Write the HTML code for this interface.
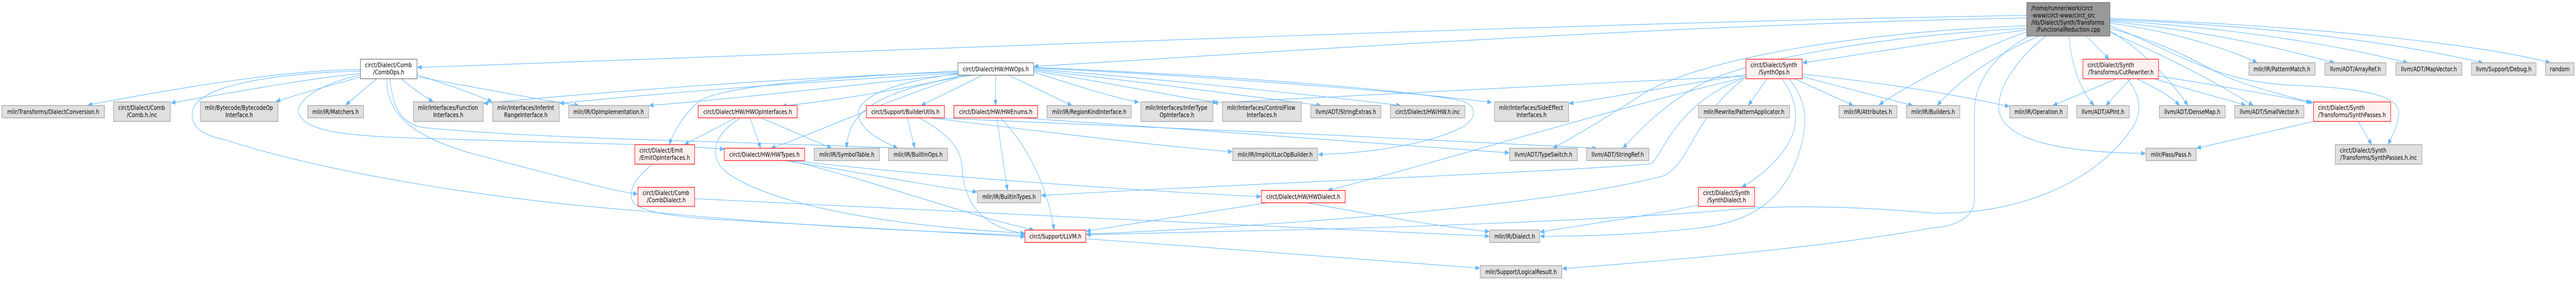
<!DOCTYPE html>
<html>
<head>
<meta charset="utf-8">
<style>
html,body{margin:0;padding:0;background:#fff;width:100vw;height:100vh;overflow:hidden;}
svg{display:block;position:absolute;left:0;top:0;width:100vw;height:100vh;}
text{font-family:"DejaVu Sans","Liberation Sans",sans-serif;font-size:12.8px;fill:#000;}
.e{fill:none;stroke:#63b8ff;stroke-width:1.1;marker-end:url(#ah);}
.g{fill:#e0e0e0;stroke:#999999;stroke-width:1.2;}
.r{fill:#fff0f0;stroke:#ff0000;stroke-width:1.2;}
.w{fill:#ffffff;stroke:#666666;stroke-width:1.2;}
.k{fill:#999999;stroke:#666666;stroke-width:1.2;}
.c{text-anchor:middle;}
</style>
</head>
<body>
<svg viewBox="0 0 6505 579" preserveAspectRatio="none" xmlns="http://www.w3.org/2000/svg" overflow="hidden">
<defs>
<marker id="ah" markerUnits="userSpaceOnUse" markerWidth="12" markerHeight="9" refX="11" refY="4.5" orient="auto">
<path d="M0,0 L11,4.5 L0,9 z" fill="#63b8ff" stroke="#63b8ff" stroke-width="0.5"/>
</marker>
</defs>

<!-- EDGES -->
<g>
<!-- CombOps -->
<path class="e" d="M910,135 C 760,136 560,155 222,204"/>
<path class="e" d="M910,143 C 800,150 600,178 432,200"/>
<path class="e" d="M910,150 C 850,162 760,182 697,197"/>
<path class="e" d="M951,153 L 873,204"/>
<path class="e" d="M1014,153 C 1035,168 1065,184 1094,198"/>
<path class="e" d="M1053,145 C 1120,162 1200,183 1243,198"/>
<path class="e" d="M1053,149 C 1200,170 1350,192 1462,205"/>
<path class="e" d="M910,146 C 820,160 740,195 755,222 C 775,252 850,262 1000,267 C 1400,278 1700,280 1829,290"/>
<path class="e" d="M977,153 C 975,230 1060,270 1200,300 C 1400,340 1550,372 1610,377"/>
<path class="e" d="M985,153 C 990,205 1010,240 1070,248 C 1400,272 1900,275 2267,288"/>
<path class="e" d="M910,138 C 700,142 500,165 486,215 C 478,250 520,264 570,272 C 800,330 1200,385 1620,410 C 2000,440 2400,452 2588,457"/>
<!-- HWOps -->
<path class="e" d="M2419,140 C 2000,150 1500,180 1221,201"/>
<path class="e" d="M2419,142 C 2000,160 1600,186 1413,201"/>
<path class="e" d="M2419,144 C 2100,170 1800,196 1639,205"/>
<path class="e" d="M2430,146 C 2300,172 2100,196 1975,206"/>
<path class="e" d="M2440,146 C 2250,190 2050,262 1947,288"/>
<path class="e" d="M2419,138 C 2100,150 1800,168 1760,200 C 1725,225 1700,258 1690,281"/>
<path class="e" d="M2455,146 C 2200,175 2140,225 2138,288"/>
<path class="e" d="M2419,143 C 2250,160 2160,190 2168,225 C 2175,255 2230,275 2267,288"/>
<path class="e" d="M2482,146 L 2326,205"/>
<path class="e" d="M2514,146 L 2514,205"/>
<path class="e" d="M2547,146 L 2707,205"/>
<path class="e" d="M2610,140 C 2700,162 2800,187 2876,199"/>
<path class="e" d="M2610,138 C 2800,160 2950,186 3074,199"/>
<path class="e" d="M2610,136 C 2900,160 3200,192 3336,205"/>
<path class="e" d="M2610,134 C 3000,158 3400,192 3537,205"/>
<path class="e" d="M2610,132 C 3100,150 3600,182 3767,199"/>
<path class="e" d="M2610,131 C 3200,150 3600,180 3690,196 C 3735,206 3728,232 3690,248 C 3600,282 3450,298 3329,300"/>
<!-- HWTypes -->
<path class="e" d="M1981,312 C 2150,332 2350,362 2467,373"/>
<path class="e" d="M1995,312 C 2200,350 2450,420 2611,447"/>
<path class="e" d="M2005,312 C 2300,340 2900,372 3184,382"/>
<!-- HWOpInterfaces -->
<path class="e" d="M1858,229 L 1728,281"/>
<path class="e" d="M1894,229 L 1921,288"/>
<path class="e" d="M1922,229 L 2100,288"/>
<path class="e" d="M1870,229 C 1800,262 1790,302 1830,332 C 1950,405 2300,442 2588,453"/>
<!-- EmitOpInterfaces -->
<path class="e" d="M1648,319 C 1610,342 1590,362 1595,386 C 1602,412 1700,420 1800,426 C 2100,437 2400,452 2588,460"/>
<!-- CombDialect -->
<path class="e" d="M1754,386 C 2300,405 3200,442 3761,459"/>
<!-- BuilderUtils -->
<path class="e" d="M2291,229 L 2310,288"/>
<path class="e" d="M2321,229 C 2400,262 2430,292 2430,332 C 2440,422 2520,446 2588,454"/>
<path class="e" d="M2347,229 C 2600,252 2900,282 3112,295"/>
<path class="e" d="M2360,229 C 2800,246 3500,264 4032,288"/>
<!-- HWEnums -->
<path class="e" d="M2517,229 L 2544,370"/>
<path class="e" d="M2527,229 C 2580,272 2640,342 2662,447"/>
<path class="e" d="M2577,229 C 3000,252 3500,277 3811,297"/>
<!-- HWDialect -->
<path class="e" d="M3200,394 C 3000,417 2800,442 2743,449"/>
<path class="e" d="M3300,394 C 3500,422 3650,442 3761,450"/>
<!-- LLVM -->
<path class="e" d="M2742,464 C 3100,482 3500,510 3737,521"/>
<!-- SynthOps -->
<path class="e" d="M4462,153 L 4415,205"/>
<path class="e" d="M4500,153 C 4545,200 4545,250 4505,292 C 4465,332 4425,352 4398,364"/>
<path class="e" d="M4532,153 L 4680,205"/>
<path class="e" d="M4551,149 L 4830,205"/>
<path class="e" d="M4551,144 C 4800,165 4950,186 5074,207"/>
<path class="e" d="M4518,153 C 4565,200 4565,235 4545,292 C 4505,400 4400,432 4300,442 C 4150,456 4000,459 3889,459"/>
<path class="e" d="M4409,145 C 4200,170 4050,192 3962,201"/>
<path class="e" d="M4409,148 C 3900,166 3300,190 3064,200"/>
<path class="e" d="M4409,150 C 4100,205 3600,322 3353,370"/>
<path class="e" d="M4400,153 C 4230,202 4200,300 4170,318 C 4000,332 3000,362 2629,380"/>
<path class="e" d="M4405,153 C 4280,222 4265,322 4200,342 C 3900,402 3200,440 2743,455"/>
<!-- SynthDialect -->
<path class="e" d="M4289,398 C 4150,422 3950,442 3889,451"/>
<!-- Root -->
<path class="e" d="M5118,30 C 4000,42 1800,112 1054,131"/>
<path class="e" d="M5118,35 C 4200,47 3000,112 2611,129"/>
<path class="e" d="M5118,58 C 4900,80 4700,106 4552,122"/>
<path class="e" d="M5118,62 C 5000,92 4800,172 4745,204"/>
<path class="e" d="M5150,70 C 5050,102 4950,152 4892,205"/>
<path class="e" d="M5125,70 C 5050,100 4990,150 4986,210 L 4986,386 C 4986,422 4940,440 4878,443 C 4600,482 4200,507 3945,522"/>
<path class="e" d="M5166,70 C 5100,110 5040,170 5048,215 C 5060,272 5200,296 5418,298"/>
<path class="e" d="M5225,70 C 5230,122 5250,172 5288,205"/>
<path class="e" d="M5268,70 L 5326,115"/>
<path class="e" d="M5328,45 C 5500,62 5650,102 5700,122"/>
<path class="e" d="M5328,42 C 5600,62 5800,102 5895,122"/>
<path class="e" d="M5328,40 C 5700,57 5950,97 6080,122"/>
<path class="e" d="M5328,38 C 5800,52 6100,92 6270,122"/>
<path class="e" d="M5328,36 C 5900,52 6300,92 6440,122"/>
<path class="e" d="M5328,60 C 5400,92 5480,152 5525,205"/>
<path class="e" d="M5328,63 C 5450,102 5580,152 5690,205"/>
<path class="e" d="M5328,55 C 5550,102 5560,140 5700,170 C 5760,184 5800,192 5841,200"/>
<path class="e" d="M5328,50 C 5500,102 5600,162 5800,166 C 6000,172 6062,192 6057,222 C 6054,247 6040,266 6030,281"/>
<path class="e" d="M5118,50 C 4700,62 4300,112 4150,182 C 4050,232 3960,272 3921,288"/>
<path class="e" d="M5118,55 C 4700,72 4400,122 4300,162 C 4200,202 4130,262 4098,288"/>
<!-- CutRewriter -->
<path class="e" d="M5345,153 L 5184,205"/>
<path class="e" d="M5380,153 L 5318,205"/>
<path class="e" d="M5396,153 C 5440,170 5480,185 5504,205"/>
<path class="e" d="M5440,153 C 5550,180 5640,196 5671,205"/>
<path class="e" d="M5451,148 C 5600,166 5750,186 5835,199"/>
<path class="e" d="M5372,153 C 5402,182 5410,212 5390,242 C 5300,352 5100,418 4880,414 C 4700,402 4500,396 4335,410 C 4000,430 3500,442 3300,446 C 3000,452 2800,456 2743,456"/>
<!-- SynthPasses -->
<path class="e" d="M5842,236 L 5547,288"/>
<path class="e" d="M5955,236 L 5989,281"/>
</g>

<!-- NODES -->
<g>
<!-- row 1 -->
<rect class="k" x="5118" y="5" width="210" height="65"/>
<text x="5129.5" y="20">/home/runner/work/circt</text>
<text x="5129.5" y="34">-www/circt-www/circt_src</text>
<text x="5129.5" y="48">/lib/Dialect/Synth/Transforms</text>
<text class="c" x="5223" y="61.5">/FunctionalReduction.cpp</text>

<rect class="w" x="910" y="115" width="143" height="38"/>
<text x="921.5" y="130.5">circt/Dialect/Comb</text>
<text class="c" x="981.5" y="144.5">/CombOps.h</text>

<rect class="w" x="2419" y="122" width="191" height="24"/>
<text class="c" x="2514.5" y="138.5">circt/Dialect/HW/HWOps.h</text>

<rect class="r" x="4409" y="115" width="142" height="38"/>
<text x="4420.5" y="130.5">circt/Dialect/Synth</text>
<text class="c" x="4480" y="144.5">/SynthOps.h</text>

<rect class="r" x="5260" y="115" width="191" height="38"/>
<text x="5271.5" y="130.5">circt/Dialect/Synth</text>
<text class="c" x="5355.5" y="144.5">/Transforms/CutRewriter.h</text>

<rect class="g" x="5679" y="122" width="167" height="24"/>
<text class="c" x="5762.5" y="138.5">mlir/IR/PatternMatch.h</text>
<rect class="g" x="5871" y="122" width="154" height="24"/>
<text class="c" x="5948" y="138.5">llvm/ADT/ArrayRef.h</text>
<rect class="g" x="6050" y="122" width="167" height="24"/>
<text class="c" x="6133.5" y="138.5">llvm/ADT/MapVector.h</text>
<rect class="g" x="6241" y="122" width="163" height="24"/>
<text class="c" x="6322.5" y="138.5">llvm/Support/Debug.h</text>
<rect class="g" x="6428" y="122" width="72" height="24"/>
<text class="c" x="6464" y="138.5">random</text>

<!-- row 2 -->
<rect class="g" x="5" y="205" width="259" height="24"/>
<text class="c" x="134.5" y="221.5">mlir/Transforms/DialectConversion.h</text>

<rect class="g" x="287" y="198" width="143" height="38"/>
<text x="298.5" y="213.5">circt/Dialect/Comb</text>
<text class="c" x="358.5" y="227.5">/Comb.h.inc</text>

<rect class="g" x="506" y="198" width="196" height="38"/>
<text x="517.5" y="213.5">mlir/Bytecode/BytecodeOp</text>
<text class="c" x="604" y="227.5">Interface.h</text>

<rect class="g" x="777" y="205" width="141" height="24"/>
<text class="c" x="847.5" y="221.5">mlir/IR/Matchers.h</text>

<rect class="g" x="1044" y="198" width="176" height="38"/>
<text x="1055.5" y="213.5">mlir/Interfaces/Function</text>
<text class="c" x="1132" y="227.5">Interfaces.h</text>

<rect class="g" x="1244" y="198" width="168" height="38"/>
<text x="1255.5" y="213.5">mlir/Interfaces/InferInt</text>
<text class="c" x="1328" y="227.5">RangeInterface.h</text>

<rect class="g" x="1436" y="205" width="202" height="24"/>
<text class="c" x="1537" y="221.5">mlir/IR/OpImplementation.h</text>

<rect class="r" x="1763" y="205" width="250" height="24"/>
<text class="c" x="1888" y="221.5">circt/Dialect/HW/HWOpInterfaces.h</text>

<rect class="r" x="2188" y="205" width="197" height="24"/>
<text class="c" x="2286.5" y="221.5">circt/Support/BuilderUtils.h</text>

<rect class="r" x="2409" y="205" width="211" height="24"/>
<text class="c" x="2514.5" y="221.5">circt/Dialect/HW/HWEnums.h</text>

<rect class="g" x="2644" y="205" width="213" height="24"/>
<text class="c" x="2750.5" y="221.5">mlir/IR/RegionKindInterface.h</text>

<rect class="g" x="2881" y="198" width="182" height="38"/>
<text x="2892.5" y="213.5">mlir/Interfaces/InferType</text>
<text class="c" x="2972" y="227.5">OpInterface.h</text>

<rect class="g" x="3087" y="198" width="199" height="38"/>
<text x="3098.5" y="213.5">mlir/Interfaces/ControlFlow</text>
<text class="c" x="3186.5" y="227.5">Interfaces.h</text>

<rect class="g" x="3310" y="205" width="177" height="24"/>
<text class="c" x="3398.5" y="221.5">llvm/ADT/StringExtras.h</text>

<rect class="g" x="3511" y="205" width="188" height="24"/>
<text class="c" x="3605" y="221.5">circt/Dialect/HW/HW.h.inc</text>

<rect class="g" x="3774" y="198" width="187" height="38"/>
<text x="3785.5" y="213.5">mlir/Interfaces/SideEffect</text>
<text class="c" x="3867.5" y="227.5">Interfaces.h</text>

<rect class="g" x="4289" y="205" width="230" height="24"/>
<text class="c" x="4404" y="221.5">mlir/Rewrite/PatternApplicator.h</text>

<rect class="g" x="4644" y="205" width="146" height="24"/>
<text class="c" x="4717" y="221.5">mlir/IR/Attributes.h</text>

<rect class="g" x="4814" y="205" width="135" height="24"/>
<text class="c" x="4881.5" y="221.5">mlir/IR/Builders.h</text>

<rect class="g" x="5075" y="205" width="146" height="24"/>
<text class="c" x="5148" y="221.5">mlir/IR/Operation.h</text>

<rect class="g" x="5244" y="205" width="133" height="24"/>
<text class="c" x="5310.5" y="221.5">llvm/ADT/APInt.h</text>

<rect class="g" x="5453" y="205" width="166" height="24"/>
<text class="c" x="5536" y="221.5">llvm/ADT/DenseMap.h</text>

<rect class="g" x="5643" y="205" width="175" height="24"/>
<text class="c" x="5730.5" y="221.5">llvm/ADT/SmallVector.h</text>

<rect class="r" x="5842" y="198" width="195" height="38"/>
<text x="5853.5" y="213.5">circt/Dialect/Synth</text>
<text class="c" x="5939.5" y="227.5">/Transforms/SynthPasses.h</text>

<!-- row 3 -->
<rect class="r" x="1603" y="281" width="151" height="38"/>
<text x="1614.5" y="296.5">circt/Dialect/Emit</text>
<text class="c" x="1678.5" y="310.5">/EmitOpInterfaces.h</text>

<rect class="r" x="1829" y="288" width="203" height="24"/>
<text class="c" x="1930.5" y="304.5">circt/Dialect/HW/HWTypes.h</text>

<rect class="g" x="2056" y="288" width="165" height="24"/>
<text class="c" x="2138.5" y="304.5">mlir/IR/SymbolTable.h</text>

<rect class="g" x="2244" y="288" width="149" height="24"/>
<text class="c" x="2318.5" y="304.5">mlir/IR/BuiltinOps.h</text>

<rect class="g" x="3113" y="288" width="214" height="24"/>
<text class="c" x="3220" y="304.5">mlir/IR/ImplicitLocOpBuilder.h</text>

<rect class="g" x="3812" y="288" width="171" height="24"/>
<text class="c" x="3897.5" y="304.5">llvm/ADT/TypeSwitch.h</text>

<rect class="g" x="4006" y="288" width="158" height="24"/>
<text class="c" x="4085" y="304.5">llvm/ADT/StringRef.h</text>

<rect class="g" x="5419" y="288" width="127" height="24"/>
<text class="c" x="5482.5" y="304.5">mlir/Pass/Pass.h</text>

<rect class="g" x="5897" y="281" width="219" height="38"/>
<text x="5908.5" y="296.5">circt/Dialect/Synth</text>
<text class="c" x="6006.5" y="310.5">/Transforms/SynthPasses.h.inc</text>

<!-- row 4 -->
<rect class="r" x="1611" y="364" width="143" height="37"/>
<text x="1622.5" y="379">circt/Dialect/Comb</text>
<text class="c" x="1682.5" y="393">/CombDialect.h</text>

<rect class="g" x="2468" y="370" width="160" height="24"/>
<text class="c" x="2548" y="386.5">mlir/IR/BuiltinTypes.h</text>

<rect class="r" x="3185" y="370" width="212" height="24"/>
<text class="c" x="3291" y="386.5">circt/Dialect/HW/HWDialect.h</text>

<rect class="r" x="4289" y="364" width="142" height="37"/>
<text x="4300.5" y="379">circt/Dialect/Synth</text>
<text class="c" x="4360" y="393">/SynthDialect.h</text>

<!-- row 5 -->
<rect class="r" x="2588" y="447" width="154" height="24"/>
<text class="c" x="2665" y="463.5">circt/Support/LLVM.h</text>

<rect class="g" x="3762" y="447" width="126" height="24"/>
<text class="c" x="3825" y="463.5">mlir/IR/Dialect.h</text>

<!-- row 6 -->
<rect class="g" x="3738" y="516" width="206" height="24"/>
<text class="c" x="3841" y="532.5">mlir/Support/LogicalResult.h</text>
</g>
</svg>
</body>
</html>
